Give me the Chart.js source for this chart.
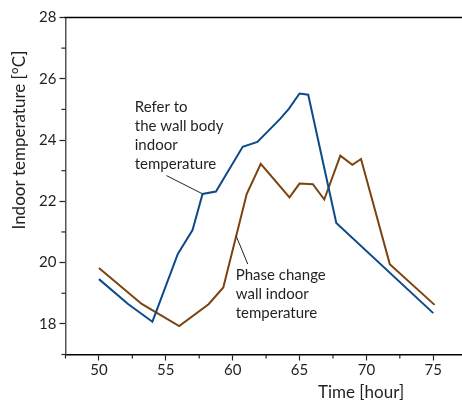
<!DOCTYPE html>
<html><head><meta charset="utf-8">
<script src="https://cdn.jsdelivr.net/npm/chart.js@4/dist/chart.umd.min.js"></script>
<style>html,body{margin:0;padding:0;background:#fff;overflow:hidden}#wrap{width:462px;height:401px;position:relative}</style>
</head><body><div id="wrap"><canvas id="c"></canvas></div>
<script>
// Reference (ordinary) wall indoor temperature
const refHours = [50, 52.2, 54, 55.9, 57, 57.75, 58.75, 60.75, 61.85, 63.55, 64.2, 65, 65.65, 67.75, 75];
const refTemps = [19.46, 18.64, 18.07, 20.28, 21.06, 22.24, 22.32, 23.78, 23.94, 24.69, 25.02, 25.52, 25.48, 21.29, 18.35];
// Phase change wall indoor temperature
const pcmHours = [50, 53.2, 56, 58.2, 59.3, 61.05, 62.1, 64.25, 65, 66, 66.85, 68.05, 68.95, 69.6, 71.75, 75.1];
const pcmTemps = [19.82, 18.65, 17.93, 18.64, 19.19, 22.24, 23.22, 22.13, 22.58, 22.56, 22.06, 23.49, 23.19, 23.38, 19.95, 18.62];
// Axis ticks
const xTicks = [47.5, 50, 52.5, 55, 57.5, 60, 62.5, 65, 67.5, 70, 72.5, 75];
const xLabels = [50, 55, 60, 65, 70, 75];
const yTicks = [17, 18, 19, 20, 21, 22, 23, 24, 25, 26, 27, 28];
const yLabels = [18, 20, 22, 24, 26, 28];
// Texts
const xTitle = "Time [hour]";
const yTitle = "Indoor temperature [°C]";
const refNote = ["Refer to", "the wall body", "indoor", "temperature"];
const pcmNote = ["Phase change", "wall indoor", "temperature"];

const BLUE = '#0e4a8a', BROWN = '#7b4310', TEXT = '#231f20';
const notes = [
  {lines: refNote, at: [52.68, 25.06], from: [55.05, 22.84], to: [57.72, 22.25]},
  {lines: pcmNote, at: [60.23, 19.6], from: [61.13, 19.95], to: [60.25, 20.88]}
];

const deco = {
  id: 'deco',
  afterDraw(chart) {
    const {ctx, chartArea: a, scales: {x, y}} = chart;
    ctx.save();
    // top frame line
    ctx.strokeStyle = '#000'; ctx.lineWidth = 1.5;
    ctx.beginPath(); ctx.moveTo(a.left - 1, a.top); ctx.lineTo(a.right, a.top); ctx.stroke();
    // minor ticks
    ctx.lineWidth = 1.2; ctx.strokeStyle = '#222';
    xTicks.filter(v => !xLabels.includes(v)).forEach(v => {
      const px = x.getPixelForValue(v);
      ctx.beginPath(); ctx.moveTo(px, a.bottom); ctx.lineTo(px, a.bottom + 4); ctx.stroke();
    });
    yTicks.filter(v => !yLabels.includes(v)).forEach(v => {
      const py = y.getPixelForValue(v);
      ctx.beginPath(); ctx.moveTo(a.left, py); ctx.lineTo(a.left - 4, py); ctx.stroke();
    });
    // annotations
    ctx.font = '15px Lato'; ctx.fillStyle = TEXT; ctx.textBaseline = 'middle'; ctx.textAlign = 'left';
    notes.forEach(n => {
      const lx = x.getPixelForValue(n.at[0]), ly = y.getPixelForValue(n.at[1]);
      n.lines.forEach((t, i) => ctx.fillText(t, lx, ly + i * 19));
      ctx.strokeStyle = '#222'; ctx.lineWidth = 1;
      ctx.beginPath();
      ctx.moveTo(x.getPixelForValue(n.from[0]), y.getPixelForValue(n.from[1]));
      ctx.lineTo(x.getPixelForValue(n.to[0]), y.getPixelForValue(n.to[1]));
      ctx.stroke();
    });
    // axis titles
    ctx.font = '17px Lato'; ctx.textAlign = 'center';
    ctx.fillText(xTitle, x.getPixelForValue(69.6), a.bottom + 38);
    ctx.translate(19.5, y.getPixelForValue(24));
    ctx.rotate(-Math.PI / 2);
    ctx.fillText(yTitle, 0, 0);
    ctx.restore();
  }
};

new Chart(document.getElementById('c'), {
  type: 'line',
  data: {
    datasets: [
      {data: refHours.map((h, i) => ({x: h, y: refTemps[i]})), borderColor: BLUE, borderWidth: 2, pointRadius: 0, tension: 0, fill: false},
      {data: pcmHours.map((h, i) => ({x: h, y: pcmTemps[i]})), borderColor: BROWN, borderWidth: 2, pointRadius: 0, tension: 0, fill: false}
    ]
  },
  options: {
    responsive: true, maintainAspectRatio: false, animation: false,
    layout: {padding: {top: 17.5, right: 0, left: 0, bottom: 0}},
    plugins: {legend: {display: false}, tooltip: {enabled: false}},
    scales: {
      x: {
        type: 'linear', min: 47.5, max: 77.15,
        afterBuildTicks: s => { s.ticks = xTicks.map(v => ({value: v})); },
        afterFit: s => { s.height = 46.5; },
        ticks: {callback: v => xLabels.includes(v) ? String(v) : '', font: {family: 'Lato', size: 15}, color: TEXT, padding: 1, maxRotation: 0, autoSkip: false},
        grid: {drawOnChartArea: false, drawTicks: true, tickLength: 6, tickWidth: 1.2,
               tickColor: c => xLabels.includes(c.tick && c.tick.value) ? '#222' : 'rgba(0,0,0,0)'},
        border: {color: '#000', width: 1.5}
      },
      y: {
        type: 'linear', min: 17, max: 28,
        afterBuildTicks: s => { s.ticks = yTicks.map(v => ({value: v})); },
        afterFit: s => { s.width = 65.5; },
        ticks: {callback: v => yLabels.includes(v) ? String(v) : '', font: {family: 'Lato', size: 15}, color: TEXT, padding: 3, autoSkip: false},
        grid: {drawOnChartArea: false, drawTicks: true, tickLength: 6, tickWidth: 1.2,
               tickColor: c => yLabels.includes(c.tick && c.tick.value) ? '#222' : 'rgba(0,0,0,0)'},
        border: {color: '#555', width: 1.5}
      }
    }
  },
  plugins: [deco]
});
</script></body></html>
